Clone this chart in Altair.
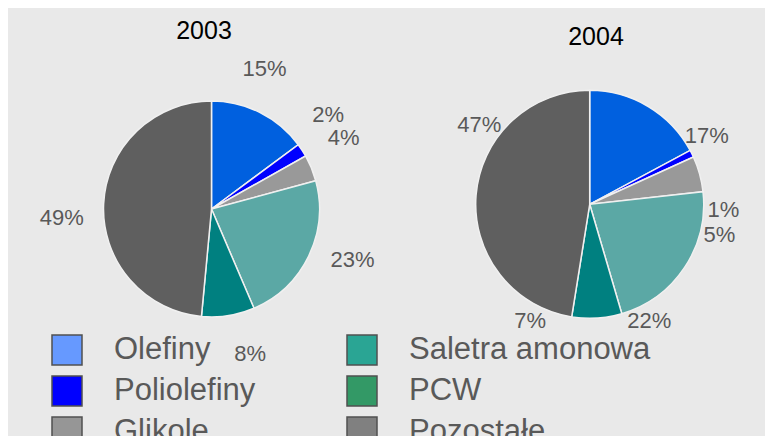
import math
import altair as alt
import pandas as pd

years = ["2003", "2004"]
categories = ["Olefiny", "Poliolefiny", "Glikole", "Saletra amonowa", "PCW", "Pozostałe"]
values_2003 = [15, 2, 4, 23, 8, 49]
values_2004 = [17, 1, 5, 22, 7, 47]
pie_colors = ["#0060df", "#0000ff", "#999999", "#5ba8a5", "#008080", "#5f5f5f"]
legend_colors = ["#6699ff", "#0000ff", "#969696", "#2aa594", "#339966", "#808080"]

rows = []
for year, vals in zip(years, [values_2003, values_2004]):
    for i, (c, v) in enumerate(zip(categories, vals)):
        rows.append({"rok": year, "kategoria": c, "idx": i, "wartosc": v})
df = pd.DataFrame(rows)

FONT = "Liberation Sans"


def pie(year, cx, cy, r, label_r, label_rot_deg, label_dy, tx, ty):
    base = alt.Chart(df).transform_filter(alt.datum.rok == year)
    arc = base.mark_arc(outerRadius=r, stroke="#f0f0f0", strokeWidth=1.5).encode(
        theta=alt.Theta("wartosc:Q", stack="normalize"),
        color=alt.Color("kategoria:N",
                        scale=alt.Scale(domain=categories, range=pie_colors),
                        legend=None),
        order=alt.Order("idx:Q"),
        x=alt.value(cx), y=alt.value(cy),
    )
    text = base.transform_calculate(etykieta="datum.wartosc + '%'").mark_text(
        radius=label_r, thetaOffset=math.radians(label_rot_deg), dy=label_dy,
        fontSize=22, font=FONT, color="#595959"
    ).encode(
        theta=alt.Theta("wartosc:Q", stack="normalize"),
        order=alt.Order("idx:Q"),
        text="etykieta:N",
        x=alt.value(cx), y=alt.value(cy),
    )
    title = alt.Chart(pd.DataFrame({"rok": years})).transform_filter(
        alt.datum.rok == year
    ).mark_text(fontSize=25, font=FONT, color="#000000").encode(
        text="rok:N", x=alt.value(tx), y=alt.value(ty)
    )
    return arc + text + title


legend_layer = alt.Chart(df).transform_filter(alt.datum.rok == "2003").mark_square(
    opacity=0
).encode(
    color=alt.Color(
        "kategoria:N",
        scale=alt.Scale(domain=categories, range=legend_colors),
        legend=alt.Legend(
            title=None, orient="none", legendX=40, legendY=323, columns=2,
            symbolType="square", symbolSize=900, symbolStrokeColor="#505050",
            symbolStrokeWidth=1.5, symbolOpacity=1, labelFontSize=31,
            labelFont=FONT, labelColor="#595959", labelOffset=31,
            labelLimit=400, rowPadding=5, columnPadding=88, padding=0,
        ),
    ),
    x=alt.value(0), y=alt.value(0),
)

chart = alt.layer(
    pie("2003", 200.5, 198, 108, 150, -6, 0, 193, 20),
    pie("2004", 578.7, 193.3, 114, 134, 30, -3, 585, 26),
    legend_layer,
).resolve_scale(color="independent").properties(
    width=757, height=428, padding=0,
    autosize=alt.AutoSizeParams(type="fit", contains="padding"),
).configure(background="#e9e9e9").configure_view(stroke=None)

chart.save("out.html", embed_options={"renderer": "svg", "actions": False})
